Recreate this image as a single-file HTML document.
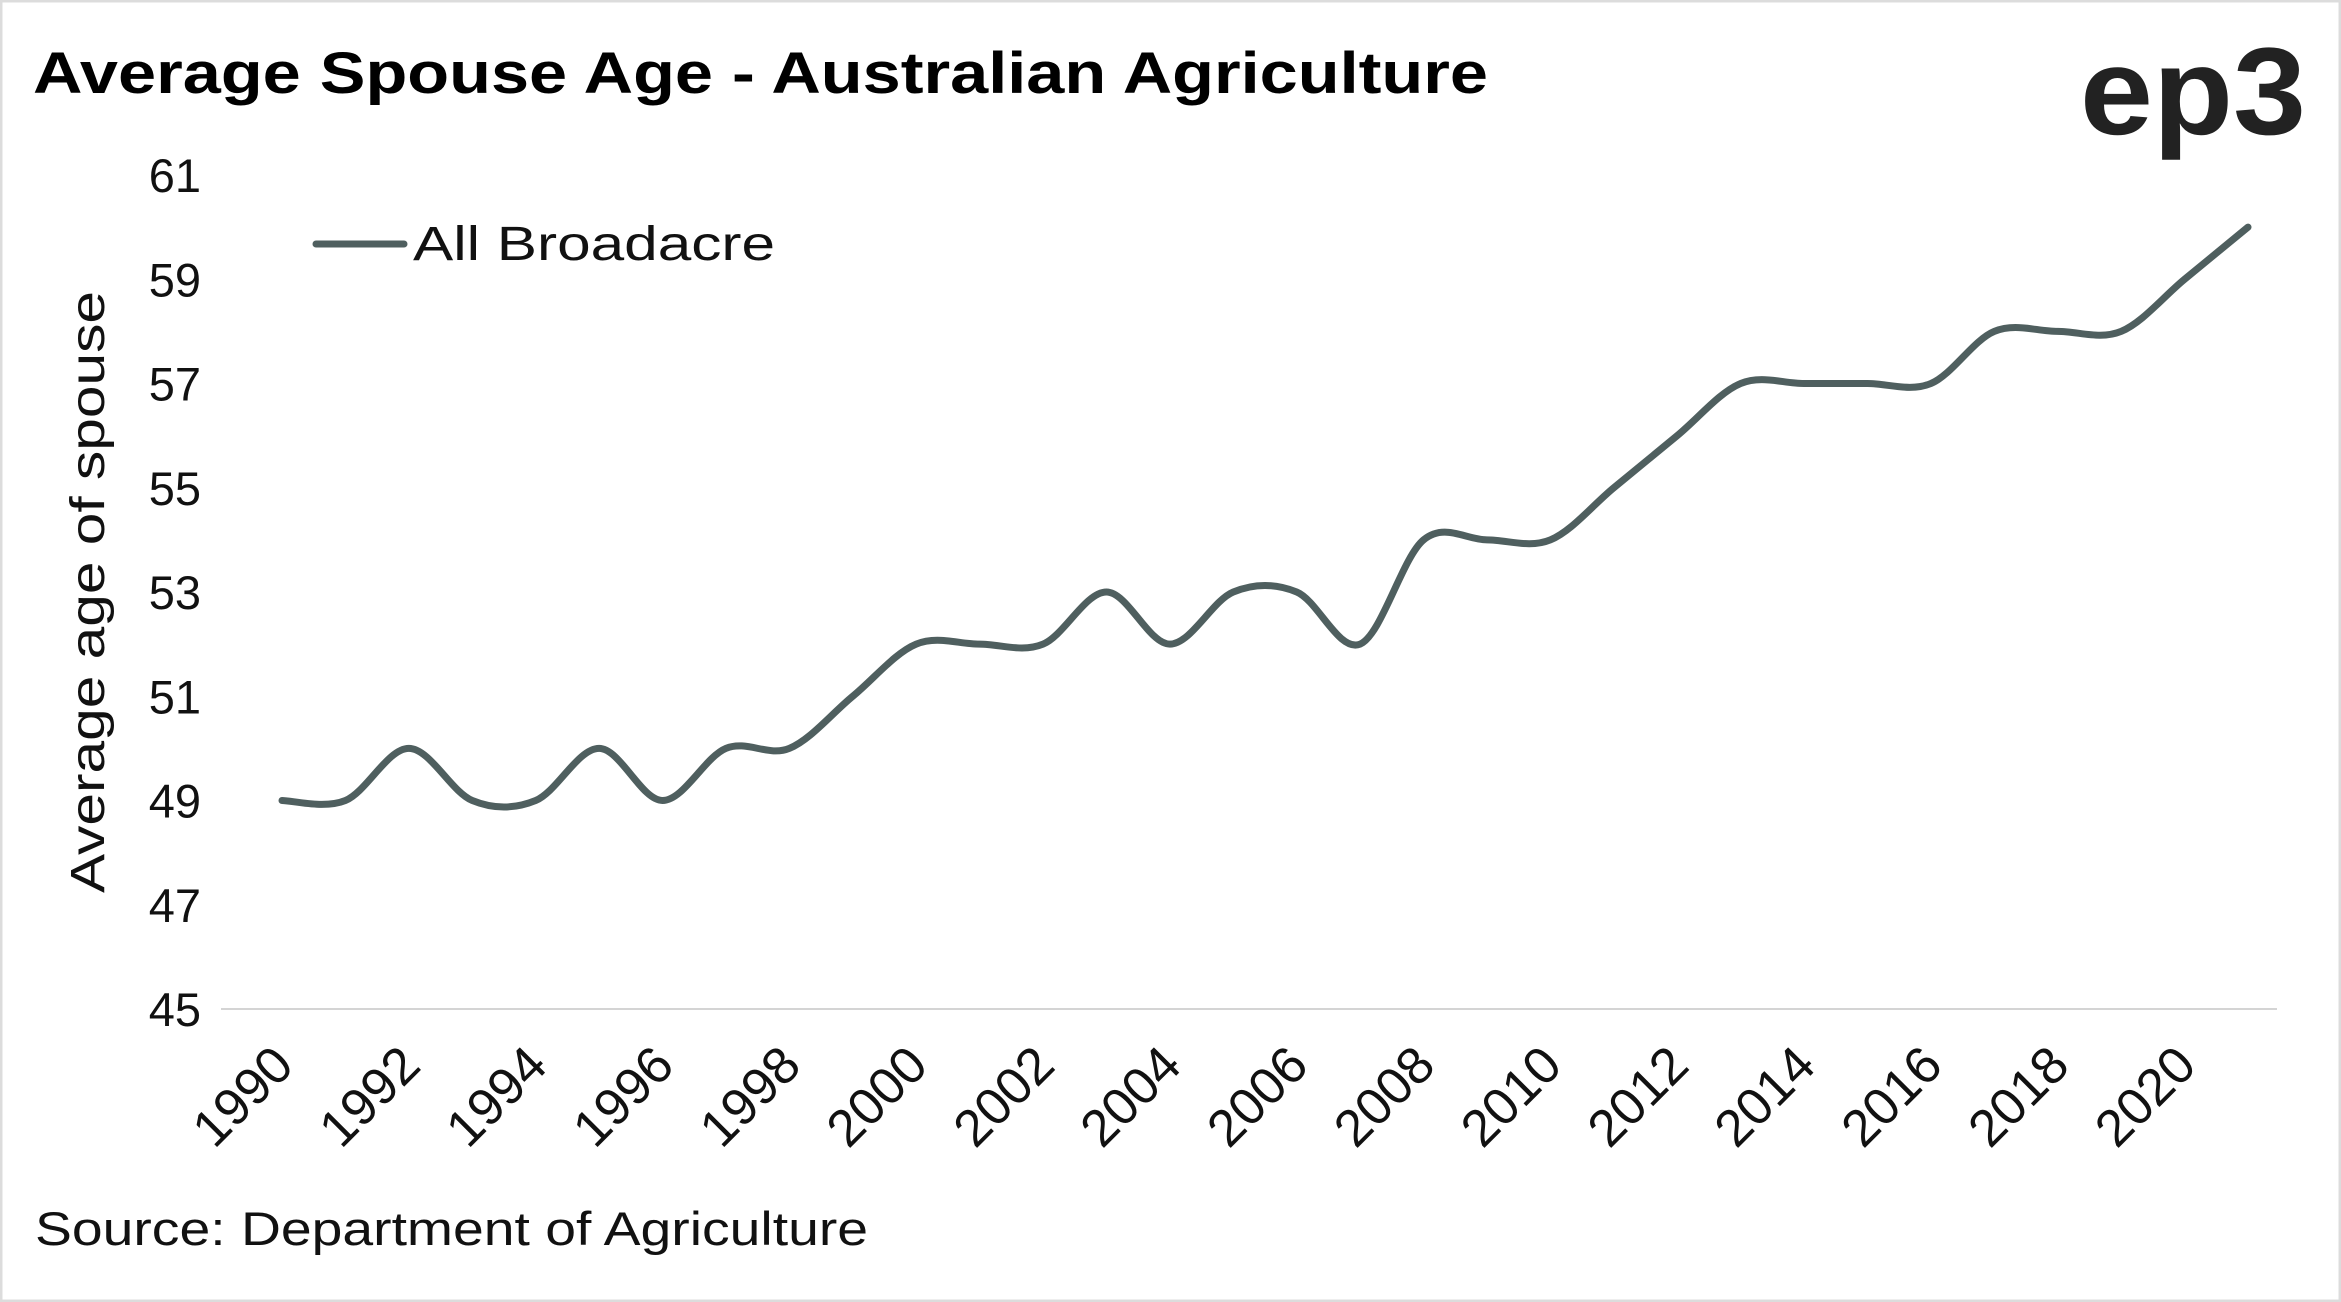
<!DOCTYPE html>
<html><head><meta charset="utf-8"><style>
html,body{margin:0;padding:0;background:#fff;}
svg{display:block;font-family:"Liberation Sans",sans-serif;}
</style></head><body>
<svg id="chart" width="2341" height="1302" viewBox="0 0 2341 1302">
<rect x="1" y="1" width="2339" height="1300" fill="#fff" stroke="#dcdcdc" stroke-width="3"/>
<text x="33" y="93" font-size="58" font-weight="bold" fill="#000" textLength="1455" lengthAdjust="spacingAndGlyphs">Average Spouse Age - Australian Agriculture</text>
<text x="2080" y="134" font-size="124" font-weight="bold" fill="#222" textLength="226" lengthAdjust="spacingAndGlyphs">ep3</text>
<text transform="translate(104,592) rotate(-90)" text-anchor="middle" font-size="48" fill="#111" textLength="602" lengthAdjust="spacingAndGlyphs">Average age of spouse</text>
<line x1="221" y1="1009" x2="2277" y2="1009" stroke="#d4d4d4" stroke-width="2"/>
<g id="yticks"></g><g id="xticks"></g>
<path id="series" fill="none" stroke="#4f5f5f" stroke-width="7" stroke-linecap="round"/>
<line x1="316" y1="244" x2="404" y2="244" stroke="#4f5f5f" stroke-width="7" stroke-linecap="round"/>
<text x="413" y="260" font-size="48" fill="#111" textLength="362" lengthAdjust="spacingAndGlyphs">All Broadacre</text>
<text x="35" y="1245" font-size="47" fill="#111" textLength="833" lengthAdjust="spacingAndGlyphs">Source: Department of Agriculture</text>
</svg>
<script>
const years=[1990,1991,1992,1993,1994,1995,1996,1997,1998,1999,2000,2001,2002,2003,2004,2005,2006,2007,2008,2009,2010,2011,2012,2013,2014,2015,2016,2017,2018,2019,2020,2021];
const values=[49,49,50,49,49,50,49,50,50,51,52,52,52,53,52,53,53,52,54,54,54,55,56,57,57,57,57,58,58,58,59,60];
const yTicks=[45,47,49,51,53,55,57,59,61];
const xLabels=[1990,1992,1994,1996,1998,2000,2002,2004,2006,2008,2010,2012,2014,2016,2018,2020];
const NS="http://www.w3.org/2000/svg";
function xs(y){return 282+(y-1990)*(2248-282)/31;}
function ys(v){return 1009-(v-45)*(1009-175)/16;}
const yg=document.getElementById('yticks');
yTicks.forEach(t=>{const e=document.createElementNS(NS,'text');
e.setAttribute('x',201);e.setAttribute('y',ys(t)+17);e.setAttribute('text-anchor','end');e.setAttribute('font-size','47');e.setAttribute('fill','#111');


e.textContent=t;yg.appendChild(e);});
const xg=document.getElementById('xticks');
xLabels.forEach(t=>{const e=document.createElementNS(NS,'text');
const x=xs(t)+14,y=1068;
e.setAttribute('transform','translate('+x+','+y+') rotate(-45)');e.setAttribute('text-anchor','end');e.setAttribute('font-size','52');e.setAttribute('fill','#111');


e.textContent=t;xg.appendChild(e);});
const P=years.map((y,i)=>[xs(y),ys(values[i])]);
let d='M'+P[0][0]+','+P[0][1];
for(let i=0;i<P.length-1;i++){const p0=P[Math.max(0,i-1)],p1=P[i],p2=P[i+1],p3=P[Math.min(P.length-1,i+2)];const k=1/6;
d+=' C'+(p1[0]+(p2[0]-p0[0])*k)+','+(p1[1]+(p2[1]-p0[1])*k)+' '+(p2[0]-(p3[0]-p1[0])*k)+','+(p2[1]-(p3[1]-p1[1])*k)+' '+p2[0]+','+p2[1];}
document.getElementById('series').setAttribute('d',d);
</script>
</body></html>
